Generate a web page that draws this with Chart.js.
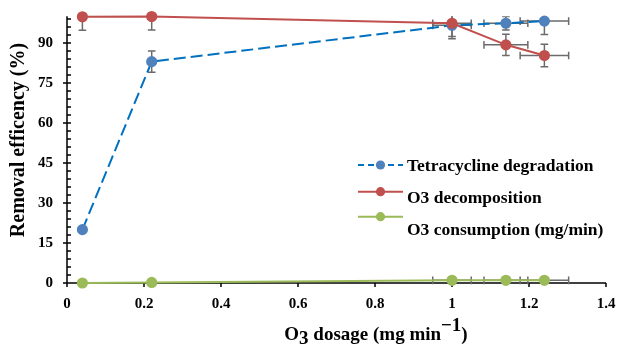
<!DOCTYPE html>
<html><head><meta charset="utf-8">
<script src="https://cdn.jsdelivr.net/npm/chart.js@4.4.0/dist/chart.umd.min.js"></script>
<style>
html,body{margin:0;padding:0;background:#fff}
#wrap{width:618px;height:345px;position:relative}
</style>
</head><body>
<div id="wrap"><canvas id="c"></canvas></div>
<script>
// ── data ──
const DOSAGE=[0.04,0.22,1.0,1.14,1.24];
const DOSAGE_ERR=[0,0,0.05,0.057,0.063];
const TC_DEG=[20,83,96.6,97.4,98.2];
const TC_ERR=[0,4,5,2.5,5];
const O3_DEC=[99.8,99.9,97.4,89.3,85.3];
const O3_DEC_ERR=[5,5,5,4,4.2];
const O3_CON=[0,0.2,1.0,1.0,1.0];
const O3_CON_ERR=[0,0,0,0,0];
const X_TICKS=[0,0.2,0.4,0.6,0.8,1,1.2,1.4];
const Y_TICKS=[0,15,30,45,60,75,90];
const LABELS=['Tetracycline degradation','O3 decomposition','O3 consumption (mg/min)'];

const SERIF="'Liberation Serif','Times New Roman',serif";
const pts=(ys,errs)=>DOSAGE.map((x,i)=>({x,y:ys[i],xErr:DOSAGE_ERR[i],yErr:errs[i]}));

// error bars, clipped to the plot area
const errBars={
  id:'errBars',
  beforeDatasetsDraw(ch){
    const {ctx,chartArea:a,scales:{x,y}}=ch;
    ctx.save();
    ctx.beginPath();ctx.rect(a.left,a.top,a.right-a.left,a.bottom-a.top+6);ctx.clip();
    ctx.strokeStyle='#6b6b6b';ctx.lineWidth=1.5;
    const cap=3.8;
    ch.data.datasets.forEach(ds=>ds.data.forEach(p=>{
      const px=x.getPixelForValue(p.x),py=y.getPixelForValue(p.y);
      ctx.beginPath();
      if(p.yErr){
        const t=y.getPixelForValue(p.y+p.yErr),b=y.getPixelForValue(p.y-p.yErr);
        ctx.moveTo(px,t);ctx.lineTo(px,b);
        ctx.moveTo(px-cap,t);ctx.lineTo(px+cap,t);
        ctx.moveTo(px-cap,b);ctx.lineTo(px+cap,b);
      }
      if(p.xErr){
        const l=x.getPixelForValue(p.x-p.xErr),r=x.getPixelForValue(p.x+p.xErr);
        ctx.moveTo(l,py);ctx.lineTo(r,py);
        ctx.moveTo(l,py-cap);ctx.lineTo(l,py+cap);
        ctx.moveTo(r,py-cap);ctx.lineTo(r,py+cap);
      }
      ctx.stroke();
    }));
    ctx.restore();
  }
};

// axis lines + cross ticks + minor ticks (Excel look)
const axes={
  id:'axes',
  beforeDatasetsDraw(ch){
    const {ctx,chartArea:a,scales:{x,y}}=ch;
    ctx.save();
    ctx.strokeStyle='#000';ctx.lineWidth=1.5;
    ctx.beginPath();
    ctx.moveTo(a.left,a.top);ctx.lineTo(a.left,a.bottom);
    ctx.moveTo(a.left,a.bottom);ctx.lineTo(a.right,a.bottom);
    Y_TICKS.forEach(v=>{const py=y.getPixelForValue(v);ctx.moveTo(a.left-4,py);ctx.lineTo(a.left+4,py)});
    for(let v=3;v<=99;v+=3){
      if(v%15===0)continue;
      const py=y.getPixelForValue(v);ctx.moveTo(a.left,py);ctx.lineTo(a.left+4,py);
    }
    X_TICKS.forEach(v=>{const px=x.getPixelForValue(v);ctx.moveTo(px,a.bottom);ctx.lineTo(px,a.bottom+4)});
    ctx.stroke();
    ctx.restore();
  }
};

// titles and in-plot legend
const texts={
  id:'texts',
  afterDraw(ch){
    const ctx=ch.ctx;
    ctx.save();
    ctx.fillStyle='#000';
    // y title
    ctx.font='bold 20px '+SERIF;
    ctx.textAlign='center';ctx.textBaseline='middle';
    ctx.translate(18.5,140);ctx.rotate(-Math.PI/2);
    ctx.fillText('Removal efficency (%)',0,0);
    ctx.setTransform(1,0,0,1,0,0);
    // x title with sub/superscript
    ctx.font='bold 19px '+SERIF;
    const parts=[['O',0],['3',4],[' dosage (mg min',0],['\u22121',-9],[')',0]];
    ctx.textAlign='left';ctx.textBaseline='alphabetic';
    const w=parts.reduce((s,p)=>s+ctx.measureText(p[0]).width,0);
    let cx=376-w/2;
    parts.forEach(([t,dy])=>{ctx.fillText(t,cx,340+dy);cx+=ctx.measureText(t).width});
    // legend
    const rows=[[165,166.7],[191.7,198],[216.7,230.5]];
    ctx.font='bold 17.5px '+SERIF;ctx.textBaseline='middle';
    ch.data.datasets.forEach((ds,i)=>{
      const [ly,ty]=rows[i];
      ctx.strokeStyle=ds.borderColor;ctx.lineWidth=2;
      ctx.setLineDash(ds.borderDash&&ds.borderDash.length?[6,4]:[]);
      ctx.beginPath();ctx.moveTo(358,ly);ctx.lineTo(403,ly);ctx.stroke();
      ctx.setLineDash([]);
      ctx.fillStyle=ds.pointBackgroundColor;
      ctx.beginPath();ctx.arc(380.5,ly,4.6,0,Math.PI*2);ctx.fill();
      ctx.fillStyle='#000';
      ctx.fillText(ds.label,407,ty);
    });
    ctx.restore();
  }
};

new Chart(document.getElementById('c'),{
  type:'line',
  data:{datasets:[
    {label:LABELS[0],data:pts(TC_DEG,TC_ERR),borderColor:'#0070C0',borderDash:[12,5],borderWidth:2,
     pointBackgroundColor:'#4F81BD',pointBorderColor:'#4F81BD',pointRadius:4.6,clip:false,order:1},
    {label:LABELS[1],data:pts(O3_DEC,O3_DEC_ERR),borderColor:'#C0504D',borderWidth:2,
     pointBackgroundColor:'#C0504D',pointBorderColor:'#C0504D',pointRadius:4.6,clip:false,order:0},
    {label:LABELS[2],data:pts(O3_CON,O3_CON_ERR),borderColor:'#9BBB59',borderWidth:2,
     pointBackgroundColor:'#9BBB59',pointBorderColor:'#9BBB59',pointRadius:4.6,clip:false,order:2}
  ]},
  options:{
    responsive:true,maintainAspectRatio:false,animation:false,
    layout:{padding:{top:16.3,right:12,left:0,bottom:0}},
    plugins:{legend:{display:false},tooltip:{enabled:false}},
    scales:{
      x:{type:'linear',min:0,max:1.4,
        afterBuildTicks:s=>{s.ticks=X_TICKS.map(v=>({value:v}))},
        afterFit:s=>{s.height=62;s.paddingLeft=0;s.paddingRight=0},
        grid:{display:false,drawTicks:false},border:{display:false},
        ticks:{padding:12,color:'#000',font:{family:SERIF,size:15,weight:'bold'},maxRotation:0,callback:v=>String(v)}},
      y:{type:'linear',min:0,max:100,
        afterBuildTicks:s=>{s.ticks=Y_TICKS.map(v=>({value:v}))},
        afterFit:s=>{s.width=67;s.paddingTop=0;s.paddingBottom=0},
        grid:{display:false,drawTicks:false},border:{display:false},
        ticks:{padding:14,color:'#000',font:{family:SERIF,size:15,weight:'bold'},callback:v=>String(v)}}
    }
  },
  plugins:[axes,errBars,texts]
});
</script>
</body></html>
